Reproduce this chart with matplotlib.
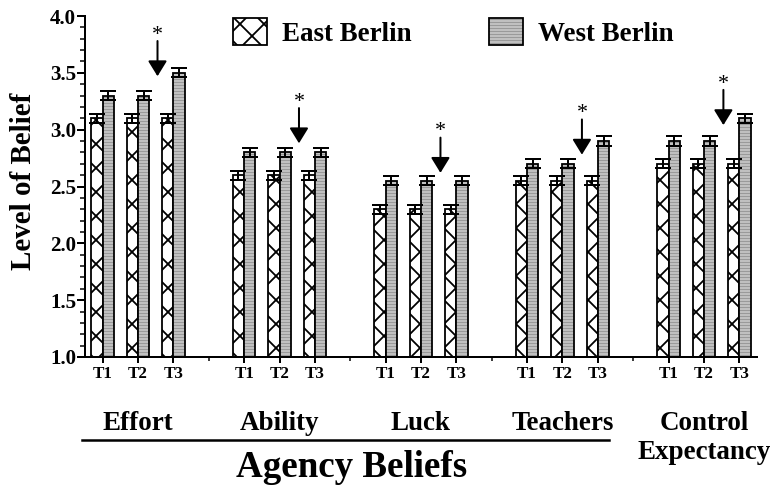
import matplotlib
matplotlib.use('Agg')
import matplotlib.pyplot as plt
from matplotlib.patches import Patch
from matplotlib.legend_handler import HandlerTuple
from matplotlib.lines import Line2D
from matplotlib.ticker import MultipleLocator, FormatStrFormatter, FixedLocator
from matplotlib.transforms import blended_transform_factory
from matplotlib.patches import ArrowStyle

plt.rcParams['font.family'] = ['Liberation Serif', 'DejaVu Serif']
plt.rcParams['font.weight'] = 'bold'
plt.rcParams['hatch.linewidth'] = 1.8

# ---- data ----
groups = ['Effort', 'Ability', 'Luck', 'Teachers', 'Control\nExpectancy']
times = ['T1', 'T2', 'T3']
east = [[3.10, 3.10, 3.10],
        [2.60, 2.60, 2.60],
        [2.30, 2.30, 2.30],
        [2.55, 2.55, 2.55],
        [2.70, 2.70, 2.70]]
west = [[3.30, 3.30, 3.50],
        [2.80, 2.80, 2.80],
        [2.55, 2.55, 2.55],
        [2.70, 2.70, 2.90],
        [2.90, 2.90, 3.10]]
east_se = [[0.04, 0.04, 0.04]] * 5
west_se = [[0.04, 0.04, 0.04]] * 5
arrow_tips = [3.47, 2.88, 2.62, 2.78, 3.04]   # significance arrows (T3)
series_labels = ['East Berlin', 'West Berlin']

W, H, DPI = 772, 486, 72
fig = plt.figure(figsize=(W / DPI, H / DPI), dpi=DPI)
ax = fig.add_axes([85 / W, 1 - 357 / H, 672 / W, 341 / H])

bw = 0.32
west_face, west_hatch = '#dadada', '#9a9a9a'
xs, e_vals, w_vals, e_err, w_err = [], [], [], [], []
for g in range(len(groups)):
    for t in range(len(times)):
        xs.append(4 * g + t)
        e_vals.append(east[g][t]); w_vals.append(west[g][t])
        e_err.append(east_se[g][t]); w_err.append(west_se[g][t])

ax.bar(xs, e_vals, width=-bw, align='edge', facecolor='white',
       edgecolor='black', hatch='x', linewidth=1.8, zorder=2)
ax.bar(xs, w_vals, width=bw, align='edge', facecolor=west_face,
       edgecolor=west_hatch, hatch='----', linewidth=0, zorder=2)
ax.bar(xs, w_vals, width=bw, align='edge', fill=False,
       edgecolor='black', linewidth=1.8, zorder=3)

ax.errorbar([x - bw / 2 for x in xs], e_vals, yerr=e_err, fmt='none',
            ecolor='black', elinewidth=2, capsize=8, capthick=2, zorder=4)
ax.errorbar([x + bw / 2 for x in xs], w_vals, yerr=w_err, fmt='none',
            ecolor='black', elinewidth=2, capsize=8, capthick=2, zorder=4)

# significance arrows
style = ArrowStyle('-|>', head_length=0.65, head_width=0.4)
for g, tip in enumerate(arrow_tips):
    xa = 4 * g + 1.55
    ax.annotate('', xy=(xa, tip), xytext=(xa, tip + 0.31),
                arrowprops=dict(arrowstyle=style, mutation_scale=20,
                                color='black', lw=2, shrinkA=0, shrinkB=0))
    ax.text(xa, tip + 0.36, '*', ha='center', va='center', fontsize=22,
            fontweight='normal')

ax.set_xlim(-0.5, 18.5)
ax.set_ylim(1.0, 4.0)
ax.set_xticks(xs)
ax.set_xticklabels(times * len(groups), fontsize=17)
ax.xaxis.set_minor_locator(FixedLocator([4 * g + 3 for g in range(len(groups) - 1)]))
ax.yaxis.set_major_locator(MultipleLocator(0.5))
ax.yaxis.set_minor_locator(MultipleLocator(0.1))
ax.yaxis.set_major_formatter(FormatStrFormatter('%.1f'))
ax.tick_params(axis='y', which='major', direction='out', length=8, width=2,
               labelsize=21, pad=1)
ax.tick_params(axis='y', which='minor', direction='out', length=5, width=1.5)
ax.tick_params(axis='x', which='major', direction='out', length=6, width=2, pad=3)
ax.tick_params(axis='x', which='minor', direction='out', length=4, width=1.5)
for s in ['top', 'right']:
    ax.spines[s].set_visible(False)
for s in ['left', 'bottom']:
    ax.spines[s].set_linewidth(2)

# legend
east_h = Patch(facecolor='white', edgecolor='black', hatch='x', linewidth=1.8)
west_fill = Patch(facecolor=west_face, edgecolor=west_hatch, hatch='----', linewidth=0)
west_edge = Patch(fill=False, edgecolor='black', linewidth=1.8)
ax.legend([east_h, (west_fill, west_edge)], series_labels,
          handler_map={tuple: HandlerTuple(ndivide=1)},
          loc='upper left', bbox_to_anchor=((233 - 85) / 672, 1 - 2 / 341),
          frameon=False, fontsize=27, ncol=2, handlelength=34 / 27,
          handleheight=32 / 27, handletextpad=15 / 27, columnspacing=2.86,
          borderpad=0, borderaxespad=0)

# group labels
tr = blended_transform_factory(ax.transData, fig.transFigure)
for g, name in enumerate(groups):
    for i, line in enumerate(name.split('\n')):
        ax.text(4 * g + 1, 1 - (430 + 29 * i) / H, line, transform=tr,
                ha='center', va='baseline', fontsize=27, clip_on=False)

fig.add_artist(Line2D([82 / W, 609 / W], [1 - 440 / H] * 2,
                      transform=fig.transFigure, color='black', lw=2.5))
fig.text(352 / W, 1 - 477 / H, 'Agency Beliefs', ha='center', va='baseline',
         fontsize=37)
fig.text(24 / W, 1 - 181 / H, 'Level of Belief', rotation=90, ha='center',
         va='center', fontsize=29)

fig.savefig('out.png', dpi=DPI, facecolor='white')
